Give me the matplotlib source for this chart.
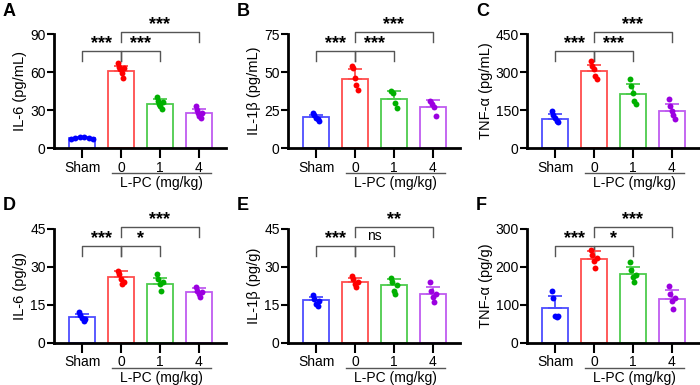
import matplotlib
matplotlib.use("Agg")
import matplotlib.pyplot as plt
import numpy as np

plt.rcParams['font.family'] = ['Liberation Sans', 'DejaVu Sans']

groups = ["Sham", "0", "1", "4"]
dose_label = "L-PC (mg/kg)"
letters = ["A", "B", "C", "D", "E", "F"]
ylabels = ["IL-6 (pg/mL)", "IL-1β (pg/mL)", "TNF-α (pg/mL)",
           "IL-6 (pg/g)", "IL-1β (pg/g)", "TNF-α (pg/g)"]
ymax = [90, 75, 450, 45, 45, 300]
yticks = [[0, 30, 60, 90], [0, 25, 50, 75], [0, 150, 300, 450],
          [0, 15, 30, 45], [0, 15, 30, 45], [0, 100, 200, 300]]

# bar means and SD (upper error) per panel
means = [[8.2, 61, 35, 27.3],
         [20.3, 45.5, 32.1, 27.3],
         [116, 304, 214, 146],
         [10.2, 26.2, 23.2, 20.1],
         [16.8, 24.0, 22.7, 19.4],
         [92, 221, 182, 116]]
sds = [[0.8, 4, 3.8, 3.1],
       [1.6, 6.5, 5.1, 4.4],
       [19, 24, 37, 26],
       [1.3, 2.1, 2.4, 1.5],
       [1.3, 1.7, 2.6, 2.9],
       [31, 20, 18, 24]]

# individual points
points = [
    [[7.5, 8.0, 8.5, 9.0, 8.2, 7.2],
     [67, 64, 62, 59, 55, 63],
     [39.9, 37, 35, 33, 31, 36],
     [32.8, 30, 27.5, 25, 23.6, 28]],
    [[23, 22, 20, 19, 17.5],
     [54.2, 52.5, 45.9, 41.5, 38.3],
     [37.8, 36, 29.5, 26.2],
     [30.6, 29, 27.3, 20.8]],
    [[148, 132, 119, 106, 103],
     [344, 324, 311, 285, 271],
     [271, 245, 218, 185, 172],
     [194, 165, 146, 132, 115]],
    [[12.2, 11, 10, 8.5, 9.5],
     [28.6, 27.3, 25.3, 23.3, 24],
     [27.3, 25.3, 23.3, 20.7, 24],
     [22, 20.7, 19.4, 18.1, 20]],
    [[18.8, 17.4, 15.5, 14.8, 16.5],
     [26.6, 25.3, 23.3, 22, 24],
     [25.7, 24, 20.7, 19.2, 23],
     [24, 20.7, 18.1, 16.2, 19.5]],
    [[136, 118, 72, 68, 70],
     [244, 232, 215, 197, 225],
     [212, 193, 174, 160, 180],
     [151, 130, 110, 89, 118]],
]

# significance labels: Sham vs 0, 0 vs 1, 0 vs 4
sig = [["***", "***", "***"],
       ["***", "***", "***"],
       ["***", "***", "***"],
       ["***", "*", "***"],
       ["***", "ns", "**"],
       ["***", "*", "***"]]

edge_colors = ["#4d4dff", "#ff4d4d", "#4dcc4d", "#bf5cf0"]
dot_colors = ["#0000ff", "#ff0000", "#00b000", "#9b00e0"]

fig = plt.figure(figsize=(7, 3.85), dpi=100)

lefts = [54, 288, 527]
bottoms = [148, 343]
W, H = 172, 114

for i in range(6):
    r, c = divmod(i, 3)
    ax = fig.add_axes([lefts[c] / 700, 1 - bottoms[r] / 385, W / 700, H / 385])
    x = np.arange(4)
    m = ymax[i]
    for j in range(4):
        ax.bar(x[j], means[i][j], width=0.66, facecolor="white",
               edgecolor=edge_colors[j], linewidth=1.3, zorder=2)
        ax.errorbar(x[j], means[i][j], yerr=[[0], [sds[i][j]]], fmt="none",
                    ecolor=edge_colors[j], elinewidth=1.3, capsize=5,
                    capthick=1.3, zorder=3)
        pts = points[i][j]
        spread = 0.28 if (i == 0 and j == 0) else 0.08
        offs = np.linspace(-spread, spread, len(pts))
        ax.scatter(x[j] + offs, pts, s=18, color=dot_colors[j], zorder=4,
                   linewidths=0)
    ax.set_xlim(-0.72, 3.7)
    ax.set_ylim(0, m)
    ax.set_yticks(yticks[i])
    ax.set_xticks(x)
    ax.set_xticklabels(groups)
    for s in ["top", "right"]:
        ax.spines[s].set_visible(False)
    ax.spines["left"].set_linewidth(2)
    ax.spines["bottom"].set_linewidth(2)
    ax.tick_params(axis="both", width=1.5, labelsize=10, color="black")
    ax.tick_params(axis="x", length=7, pad=2)
    ax.tick_params(axis="y", length=5, pad=1)
    ax.set_ylabel(ylabels[i], fontsize=10.5, labelpad=2)

    # L-PC group line and label
    ax.plot([0.78, 3.32], [-0.22 * m, -0.22 * m], color="#555555",
            linewidth=1, clip_on=False)
    ax.text(2.04, -0.31 * m, dose_label, ha="center", va="center",
            fontsize=10)

    # significance brackets
    pairs = [(0, 1), (1, 2), (1, 3)]
    levels = [0.85, 0.85, 1.02]
    for (a, b), lv, lab in zip(pairs, levels, sig[i]):
        y0, y1 = lv * m, (lv - 0.09) * m
        ax.plot([a, a, b, b], [y1, y0, y0, y1], color="#555555",
                linewidth=1, clip_on=False)
        if lab == "ns":
            ax.text((a + b) / 2, y0 + 0.03 * m, lab, ha="center",
                    va="bottom", fontsize=10)
        else:
            ax.text((a + b) / 2, y0 - 0.01 * m, lab, ha="center",
                    va="bottom", fontsize=13, fontweight="bold")

    fig.text((lefts[c] - 51) / 700, 1 - ((bottoms[r] - 114) - 23) / 385,
             letters[i], fontsize=13, fontweight="bold", va="center")

fig.savefig("out.png", dpi=100)
